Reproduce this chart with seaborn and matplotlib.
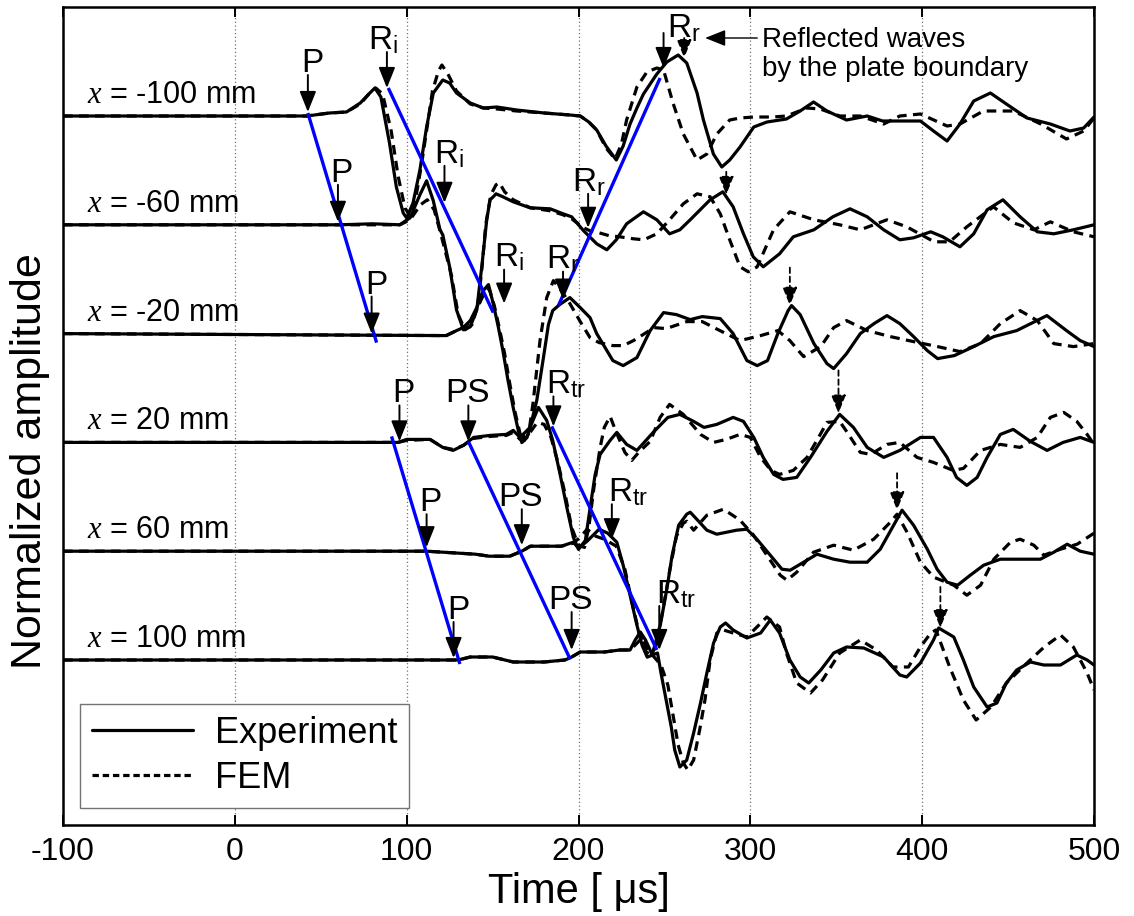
import numpy as np
import pandas as pd
import matplotlib
matplotlib.use("Agg")
import matplotlib.pyplot as plt
from matplotlib.lines import Line2D
import seaborn as sns

# ------------------------------------------------------------------ data
positions_mm = [-100, -60, -20, 20, 60, 100]
trace_spacing = 1.088          # vertical offset between stacked traces
xticks = [-100, 0, 100, 200, 300, 400, 500]

# amplitudes below are in 1/100 of the normalized unit
t_exp_m100 = [-100, 42, 55, 65, 73, 78, 81.5, 85, 90, 94, 98, 100, 103.7, 107.7, 111.6, 115.5, 121, 125, 129, 137,
              144.6, 152.5, 164, 180, 195, 201, 206, 210.6, 216, 222, 226, 230, 234, 237.8, 245.6, 251.4, 258, 263, 269, 272.7,
              278.5, 283.4, 288, 294, 302, 309.7, 321, 329, 336.8, 344.6, 356, 368, 377, 387, 399, 406.6, 414.5, 422, 430, 439.7,
              449, 461, 474.6, 486, 494, 500]
a_exp_m100 = [0, 0, 3, 4, 13, 22, 28, 19, -27, -71, -97, -102, -87, -54, -11, 23, 36, 33, 23, 13,
              8, 9, 6, 3, 1, 0, -6, -14, -30, -44, -30, -8, 8, 22, 42, 54, 61, 53, 23, -4,
              -38, -51, -44, -31, -11, -6, -3, 5, 14, 5, -4, 0, -5, -5, -5, -15, -25, -8, 15, 23,
              12, -2, -8, -15, -12, -1]
t_fem_m100 = [-100, 42, 55, 65, 73, 78, 82, 86, 91, 95, 99, 102, 105, 108.5, 112, 115, 118.5, 120.5, 124, 129,
              137, 144.6, 152.5, 164, 180, 195, 201, 206, 210.6, 216, 221.3, 225, 228, 234, 239.8, 245.6, 249.5, 255, 261, 269,
              274.7, 280.5, 288, 294, 302, 313, 321, 333, 340.7, 352, 364, 377.6, 387, 399, 414.5, 422, 435.6, 453, 469, 484,
              494, 500]
a_fem_m100 = [0, 0, 3, 4, 12, 22, 28, 22, -15, -60, -92, -100, -85, -50, -10, 25, 45, 51, 42, 25,
              12, 8, 7, 5, 3, 1, 0, -6, -14, -32, -43, -28, -4, 29, 44, 48, 46, 13, -18, -44,
              -38, -18, -4, -2, -1, -1, 0, 8, 7, 0, 0, -8, 0, 2, -10, -8, 5, 5, -8, -23,
              -15, -2]

t_exp_m60 = [-100, 61, 80, 96, 102, 107.7, 111.6, 115.5, 119.4, 121, 125, 129, 133, 137, 140.8, 143.7, 146.6, 148.5, 150.4, 152,
             156, 162, 171.8, 183.5, 191, 196, 203, 210.6, 216.5, 222, 228, 237.8, 245.6, 253, 259, 265, 276.6, 284, 290, 296,
             301.7, 307.5, 317, 325, 337, 348, 358, 368, 377.6, 387, 395, 405, 412, 422, 430, 437.8, 447, 457, 467, 476.6,
             488, 500]
a_exp_m60 = [0, 0, 1, 0, 7, 30, 44, 24, -5, -10, -42, -85, -105, -102, -85, -42, 5, 25, 28, 31,
             28, 23, 17, 16, 11, 8, -6, -19, -25, -15, 1, 13, 5, -9, -5, 5, 25, 33, 18, -9,
             -32, -42, -29, -12, -5, 8, 16, 8, -5, -15, -13, -7, -12, -22, -9, 15, 25, 8, -7, -9,
             -5, 0]
t_fem_m60 = [-100, 61, 96, 102, 108, 112, 116, 120, 126, 130, 134, 138, 141.5, 144, 146, 149, 152, 154, 157, 162,
             172, 183.5, 191, 196, 203, 206.7, 212, 218, 224, 232, 238, 245.6, 253, 261, 269, 276.6, 282.5, 288, 294, 298.8,
             304, 313.5, 323, 337, 352, 364, 379.5, 391, 407, 416, 426, 441.5, 453, 465, 474.6, 488, 500]
a_fem_m60 = [0, 0, 0, 5, 20, 25, 15, -10, -50, -90, -105, -100, -80, -40, 0, 30, 40, 42, 33, 25,
             17, 14, 10, 6, -3, -6, -8, -11, -12, -14, -15, -9, 5, 21, 31, 28, 11, -15, -42, -47,
             -42, -5, 13, 5, 0, -5, 5, -2, -17, -17, -2, 18, 2, -5, 3, -7, -12]

t_exp_m20 = [-100, 123, 129, 133, 137, 140.8, 144.6, 147.6, 150.5, 153.4, 156, 159, 162, 165, 167, 170, 171.8, 175.7, 179.6, 182.5,
             185, 189, 195, 201, 206.7, 210.6, 220, 226, 234, 241.7, 249.5, 257, 265, 272, 282.5, 290, 298, 304, 310, 316,
             322, 324, 329, 337, 344.6, 348.5, 356, 364, 372, 379.5, 387, 395, 403, 409, 418.7, 430, 441.7, 455, 472.6, 484,
             492, 500]
a_exp_m20 = [0, -2, 3, 6, 13, 26, 43, 49, 29, 6, -17, -47, -74, -97, -109, -104, -94, -67, -24, 9,
             23, 29, 36, 26, 16, 0, -27, -32, -24, 3, 21, 19, 14, 17, 15, 0, -27, -32, -27, 0,
             23, 28, 19, -10, -30, -35, -20, 0, 10, 18, 10, -3, -17, -25, -22, -13, -3, 3, 18, 3,
             -7, -13]
t_fem_m20 = [-100, 123, 129, 133, 137, 141, 145, 148, 151, 154, 157, 160, 163, 166, 168, 171, 173.5, 177.6, 181.5, 185.4,
             190, 195, 201, 206.7, 212, 220, 226, 232, 244, 251, 263, 272, 280, 294, 306, 316, 323, 331, 341, 348.5,
             356, 368, 381.5, 395, 409, 422, 434, 445.5, 457, 467, 476.6, 488, 500]
a_fem_m20 = [0, -2, 3, 6, 12, 25, 40, 45, 28, 5, -20, -50, -78, -100, -108, -100, -70, -7, 36, 53,
             43, 30, 12, -4, -9, -12, -12, -7, 6, 5, 12, 12, 5, -7, -2, 3, -7, -23, -13, 6,
             13, 3, -3, -8, -13, -18, -10, 10, 23, 13, -10, -13, -10]

t_exp_20 = [-100, 95, 100, 113.6, 121, 127, 133, 139, 148.5, 158, 162, 166, 171.8, 176.7, 181.5, 185, 189.3, 193.2, 197, 200,
            204, 206.8, 209.7, 212.6, 218.4, 222.3, 228, 234, 244, 252, 259, 267, 273, 280.5, 290, 296, 302, 307.5, 313.6, 319,
            327, 335, 344.6, 352, 360, 368, 377.6, 387, 399, 406.6, 414.5, 420, 426, 432, 437.8, 445.5, 453, 463, 472.7, 482,
            492, 500]
a_exp_20 = [0, 0, 3, 3, -5, -8, -3, 5, 7, 8, 12, 5, 15, 35, 22, 2, -32, -65, -95, -107,
            -98, -65, -32, -12, 2, 10, -2, -8, 11, 25, 28, 21, 15, 18, 25, 21, 5, -15, -32, -37,
            -35, -15, 11, 28, 15, -5, -15, -8, 5, 5, -15, -35, -43, -35, -15, 8, 13, 1, -8, 0,
            5, 0]
t_fem_20 = [-100, 95, 100, 113.6, 121, 127, 133, 139, 148.5, 158, 162, 166, 171, 176, 180, 184, 188, 192, 196, 200,
            203.5, 206, 209, 212.6, 215, 218.4, 222, 227, 231, 235, 241.7, 247.5, 253, 261, 271, 278.6, 286, 294, 300, 306,
            312, 317, 325, 333, 340.7, 344.6, 352, 356, 364, 370, 379.5, 387, 397, 406.6, 418, 424, 434, 445.5, 457, 467,
            474.6, 482.4, 490, 496, 500]
a_fem_20 = [0, 0, 2, 3, -5, -7, -3, 4, 6, 7, 10, 3, 8, 20, 18, 5, -20, -50, -85, -103,
            -105, -85, -45, -5, 15, 26, 10, -10, -18, -10, 1, 25, 38, 28, 8, 0, 3, 8, 5, -15,
            -28, -32, -28, -15, 8, 20, 21, 11, -10, -12, -2, 0, -15, -20, -28, -26, -8, -2, -5, 5,
            25, 30, 21, 8, -2]

t_exp_60 = [-100, 111.6, 140, 148, 160, 167, 172, 190, 197, 200, 205, 212, 217, 222.3, 226, 230, 234, 237, 240, 242.8,
            247.6, 251.5, 254.5, 258.3, 263, 265, 268.8, 274.7, 280.5, 292, 298, 303.8, 311.6, 318.4, 323.2, 331, 338.8, 348.5, 358, 368,
            375.6, 383.4, 388.3, 395, 403, 408.7, 414.5, 420.6, 428, 435.8, 445.5, 457, 468.8, 476.6, 484.4, 492, 500]
a_exp_60 = [0, 0, -3, -5, -5, 0, 5, 5, 9, 3, 10, 22, 18, 9, -14, -44, -74, -94, -106, -104,
            -74, -37, -4, 26, 37, 39, 32, 21, 17, 21, 22, 12, -4, -18, -19, -11, -3, -8, -11, -11,
            2, 26, 41, 26, 2, -18, -31, -34, -24, -14, -8, -8, -8, -1, 7, 0, -3]
t_fem_60 = [-100, 111.6, 140, 148, 160, 167, 172, 190, 197, 201, 205, 210, 215, 222, 227, 231, 235, 239, 242, 245,
            249, 253, 257, 261, 263, 267, 274.7, 284.4, 294, 301.9, 309.6, 317.4, 321.3, 327, 336.8, 348.5, 360, 371.8, 381.5, 385.4,
            391.2, 399, 406.7, 418.4, 426, 434, 441.7, 451.4, 457, 465, 470.8, 480.5, 490.2, 500]
a_fem_60 = [0, 0, -3, -5, -5, 0, 5, 5, 8, 14, 22, 15, 12, 5, -18, -50, -80, -100, -104, -95,
            -60, -20, 15, 28, 30, 21, 36, 42, 31, 16, -4, -24, -29, -21, -1, 6, 1, 12, 29, 37,
            19, -11, -26, -34, -44, -34, -8, 9, 12, 6, -4, 2, 7, 18]

t_exp_100 = [-100, 130, 137, 150, 162, 180, 192, 195, 201, 215, 224, 230, 233, 236, 239, 243, 246, 248, 251, 254,
             256, 259, 263, 267, 271, 274.7, 278.6, 282.5, 285.6, 290, 298, 306, 311.6, 317, 323, 329, 334, 341, 348.5, 356,
             366, 377.6, 387, 391, 399, 406.6, 409.6, 418.4, 424, 430, 437.8, 443.5, 449, 455, 463, 470.8, 480.5, 490, 496, 500]
a_exp_100 = [0, 0, 3, 3, -2, -2, 0, 2, 8, 8, 10, 10, 20, 28, 20, 5, 7, -13, -40, -67,
             -90, -107, -100, -73, -43, -13, 17, 33, 37, 30, 22, 27, 40, 27, 0, -17, -23, -10, 7, 13,
             12, 3, -15, -17, -3, 20, 32, 23, 0, -27, -47, -43, -23, -10, -2, -5, -5, 5, 0, -5]
t_fem_100 = [-100, 130, 137, 150, 162, 180, 192, 195, 201, 215, 224, 230, 233, 237, 240, 244, 248, 252, 255, 258,
             261, 263.6, 267, 270.5, 273.6, 276.6, 280.5, 284.4, 290, 298, 305, 309.6, 317, 321, 327, 335, 342, 352, 364, 373.5,
             383, 392, 399, 405, 408, 416, 424, 431.4, 440, 449, 461, 471, 480.5, 488, 496, 500]
a_fem_100 = [0, 0, 3, 3, -2, -2, 0, 2, 8, 8, 10, 10, 15, 22, 10, 3, -5, -25, -55, -85,
             -103, -110, -100, -70, -40, 0, 27, 30, 27, 23, 35, 43, 33, 7, -23, -33, -20, 7, 20, 10,
             -7, -7, 13, 27, 30, -7, -40, -60, -47, -23, -3, 13, 25, 13, -13, -30]

series = {
    (-100, "Experiment"): (t_exp_m100, a_exp_m100), (-100, "FEM"): (t_fem_m100, a_fem_m100),
    (-60, "Experiment"): (t_exp_m60, a_exp_m60),    (-60, "FEM"): (t_fem_m60, a_fem_m60),
    (-20, "Experiment"): (t_exp_m20, a_exp_m20),    (-20, "FEM"): (t_fem_m20, a_fem_m20),
    (20, "Experiment"): (t_exp_20, a_exp_20),       (20, "FEM"): (t_fem_20, a_fem_20),
    (60, "Experiment"): (t_exp_60, a_exp_60),       (60, "FEM"): (t_fem_60, a_fem_60),
    (100, "Experiment"): (t_exp_100, a_exp_100),    (100, "FEM"): (t_fem_100, a_fem_100),
}

# wave-front lines: (trace start, time, amp) -> (trace end, time, amp)
front_lines = [
    (0, 42.5, 3, 2, 82.5, -9),      # P
    (0, 89.3, 28, 2, 150.4, 21),    # Ri
    (0, 247.5, 38, 2, 188.3, 28),   # Rr
    (3, 91.2, 6, 5, 131.0, -4),     # P
    (3, 135.9, 1, 5, 195.1, 1),     # PS
    (3, 184.4, 16, 5, 245.6, 10),   # Rtr
]

# arrival arrows: (trace, label, arrow time, tip amp, tail amp, text time)
arrivals = [
    (0, "P", 42.5, 4, 41, 45.4),
    (0, r"R$_{\mathrm{i}}$", 88.5, 28, 64, 86.5),
    (1, "P", 60.0, 3, 40, 62.1),
    (1, r"R$_{\mathrm{i}}$", 122.0, 22, 59, 124.6),
    (1, r"R$_{\mathrm{r}}$", 205.6, -3, 31, 206.0),
    (2, "P", 79.6, 0, 37, 82.5),
    (2, r"R$_{\mathrm{i}}$", 156.7, 30, 64, 159.6),
    (2, r"R$_{\mathrm{r}}$", 191.0, 34, 62, 190.7),
    (3, "P", 95.8, 1, 37, 97.8),
    (3, "PS", 135.9, 1, 37, 135.4),
    (3, r"R$_{\mathrm{tr}}$", 185.4, 16, 46, 192.8),
    (4, "P", 111.6, 4, 37, 113.6),
    (4, "PS", 167.0, 6, 42, 166.4),
    (4, r"R$_{\mathrm{tr}}$", 219.4, 12, 47, 229.0),
    (5, "P", 127.3, 2, 38, 130.0),
    (5, "PS", 196.0, 10, 48, 195.5),
    (5, r"R$_{\mathrm{tr}}$", 247.0, 10, 54, 256.7),
]
# reflected-wave (dashed) arrows: (trace, time, tip amp, tail amp)
reflections = [
    (0, 261.5, 58, 78),
    (1, 286.0, 30, 53),
    (2, 323.0, 28, 66),
    (3, 351.3, 29, 72),
    (4, 385.4, 41, 78),
    (5, 410.6, 32, 73),
]

# ------------------------------------------------------------------ frame
rows = []
for k, pos in enumerate(positions_mm):
    for src in ["Experiment", "FEM"]:
        tt, aa = series[(pos, src)]
        for ti, ai in zip(tt, aa):
            rows.append((pos, src, ti, -k * trace_spacing + ai / 100.0))
df = pd.DataFrame(rows, columns=["position", "source", "time", "y"])


def base(k):
    return -k * trace_spacing


sns.set_theme(style="white")
plt.rcParams.update({
    "font.family": ["Liberation Sans", "DejaVu Sans"],
    "mathtext.fontset": "custom",
    "mathtext.rm": "Liberation Sans",
    "mathtext.it": "Liberation Serif:italic",
    "mathtext.bf": "Liberation Sans:bold",
    "axes.unicode_minus": False,
    "text.color": "black",
    "axes.labelcolor": "black",
    "xtick.color": "black",
    "ytick.color": "black",
})

W, H = 1134, 916
fig = plt.figure(figsize=(W / 100, H / 100), dpi=100)
ax = fig.add_axes([63 / W, 1 - 825 / H, 1031 / W, 818 / H])

sns.lineplot(data=df, x="time", y="y", units="position", style="source",
             estimator=None, sort=False, color="black", linewidth=2.3,
             dashes={"Experiment": "", "FEM": (3, 2)}, legend=False, ax=ax)

ax.set_xlim(-100, 500)
ax.set_ylim(-7.09, 1.09)

arrow_kw = dict(arrowstyle="-|>,head_length=0.7,head_width=0.28",
                color="black", shrinkA=0, shrinkB=0)

# wave fronts (blue)
for k0, t0, a0, k1, t1, a1 in front_lines:
    ax.plot([t0, t1], [base(k0) + a0 / 100, base(k1) + a1 / 100],
            color="#0000ff", lw=2.4, solid_capstyle="butt", zorder=5)

# arrival arrows
for k, lab, ta, tip, tail, tt in arrivals:
    ax.annotate("", xy=(ta, base(k) + tip / 100), xytext=(ta, base(k) + tail / 100),
                arrowprops=dict(lw=1.4, mutation_scale=18, **arrow_kw), zorder=6)
    ax.text(tt, base(k) + (tail + 3) / 100, lab, ha="center", va="baseline",
            fontsize=24, zorder=6)

# Rr label of first trace (beside its arrow)
ax.annotate("", xy=(249.5, base(0) + 0.48), xytext=(249.5, base(0) + 0.83),
            arrowprops=dict(lw=1.4, mutation_scale=18, **arrow_kw), zorder=6)
ax.text(261.5, base(0) + 0.79, r"R$_{\mathrm{r}}$", ha="center", va="baseline",
        fontsize=24, zorder=6)

# reflected-wave arrows
for k, ta, tip, tail in reflections:
    ax.annotate("", xy=(ta, base(k) + tip / 100), xytext=(ta, base(k) + tail / 100),
                arrowprops=dict(lw=1.3, ls=(0, (3, 2)), mutation_scale=16, **arrow_kw),
                zorder=6)

ax.annotate("", xy=(273.7, base(0) + 0.78), xytext=(304, base(0) + 0.78),
            arrowprops=dict(lw=1.0, mutation_scale=18, **arrow_kw), zorder=6)
ax.text(307, base(0) + 0.69, "Reflected waves", ha="left", va="baseline", fontsize=20)
ax.text(307, base(0) + 0.40, "by the plate boundary", ha="left", va="baseline", fontsize=20)

# trace labels
for k, pos in enumerate(positions_mm):
    ax.text(-86, base(k) + 0.13, r"$\mathit{x}$" + f" = {pos} mm", ha="left",
            va="baseline", fontsize=22)

# axes styling
ax.set_xticks(xticks)
ax.set_xticklabels([str(v) for v in xticks])
ax.set_yticks([])
ax.tick_params(axis="x", which="both", direction="in", top=True, bottom=True,
               length=7, width=1.4, labelsize=23, pad=9)
ax.grid(axis="x", linestyle=(0, (1, 2)), color="0.45", linewidth=0.9)
ax.set_axisbelow(True)
for s in ax.spines.values():
    s.set_visible(True)
    s.set_color("black")
    s.set_linewidth(1.8)

ax.set_xlabel("Time [ μs]", fontsize=30)
ax.set_ylabel("Normalized amplitude", fontsize=31)
ax.xaxis.set_label_coords(0.5, -0.058)
ax.yaxis.set_label_coords(-0.013, 0.445)

handles = [Line2D([], [], color="black", lw=2.3, label="Experiment"),
           Line2D([], [], color="black", lw=2.3, dashes=(2, 1.2), label="FEM")]
leg = ax.legend(handles=handles, loc="lower left", bbox_to_anchor=(0.0165, 0.0208),
                borderaxespad=0, fontsize=26, frameon=True, fancybox=False,
                edgecolor="0.45", framealpha=1, handlelength=2.8, handletextpad=0.6,
                borderpad=0.33, labelspacing=0.28)
leg.get_frame().set_linewidth(1.0)

fig.savefig("out.png", dpi=100)
